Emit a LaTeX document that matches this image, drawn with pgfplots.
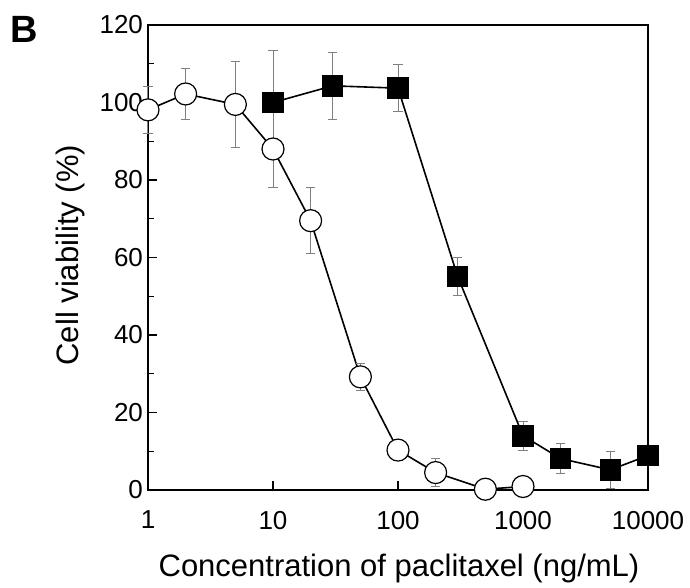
\documentclass[border=0pt]{standalone}
\usepackage{pgfplots}
\pgfplotsset{compat=1.18}
\usepackage{fontspec}
\setmainfont{Liberation Sans}
\begin{document}
\begin{tikzpicture}
\path[use as bounding box] (-74pt,-49pt) rectangle (271pt,245pt);
\begin{axis}[
  at={(0,0)}, anchor=south west,
  scale only axis, width=250pt, height=232.5pt,
  xmode=log, xmin=1, xmax=10000, ymin=0, ymax=120,
  log basis x=10,
  xtick={1,10,100,1000,10000},
  xticklabels={1,10,100,1000,10000},
  ytick={0,20,40,60,80,100,120},
  minor ytick={10,30,50,70,90,110},
  tick pos=left, tick align=inside,
  major tick length=4.5pt, minor tick length=2.8pt,
  axis line style={line width=0.75pt},
  every tick/.style={black, line width=0.6pt},
  /pgf/number format/assume math mode=true,
  tick label style={font=\fontsize{13}{15}\selectfont},
  xticklabel style={yshift=-7pt},
  yticklabel style={xshift=1pt},
  xlabel={Concentration of paclitaxel (ng/mL)},
  ylabel={Cell viability (\%)},
  label style={font=\fontsize{15.5}{18}\selectfont},
  xlabel style={at={(axis description cs:0.502,-0.187)}, anchor=base},
  ylabel style={at={(axis description cs:-0.155,0.505)}, anchor=center},
  clip=false,
  error bars/y dir=both, error bars/y explicit,
  error bars/error bar style={gray, line width=0.5pt},
  error bars/error mark options={rotate=90, gray, mark size=2.3pt, line width=0.5pt},
]
\addplot[black, line width=0.8pt, mark=square*, mark size=5pt,
  mark options={fill=black, draw=black}] coordinates {
  (10,100) +- (0,13.5)
  (30,104.3) +- (0,8.6)
  (100,103.7) +- (0,6)
  (300,55.1) +- (0,4.8)
  (1000,14.0) +- (0,3.8)
  (2000,8.1) +- (0,3.8)
  (5000,5.2) +- (0,4.7)
  (10000,8.9) +- (0,1.5)
};
\addplot[black, line width=0.8pt, mark=*, mark size=5.5pt,
  mark options={fill=white, draw=black, line width=0.6pt}] coordinates {
  (1,98.1) +- (0,6)
  (2,102.2) +- (0,6.5)
  (5,99.5) +- (0,11)
  (10,88) +- (0,10)
  (20,69.5) +- (0,8.5)
  (50,29.2) +- (0,3.5)
  (100,10.3) +- (0,1.5)
  (200,4.5) +- (0,3.7)
  (500,0.2) +- (0,2.3)
  (1000,0.9) +- (0,2.5)
};
\end{axis}
\node[font=\bfseries\fontsize{19}{22}\selectfont] at (-61.75pt,230.5pt) {B};
\end{tikzpicture}
\end{document}
